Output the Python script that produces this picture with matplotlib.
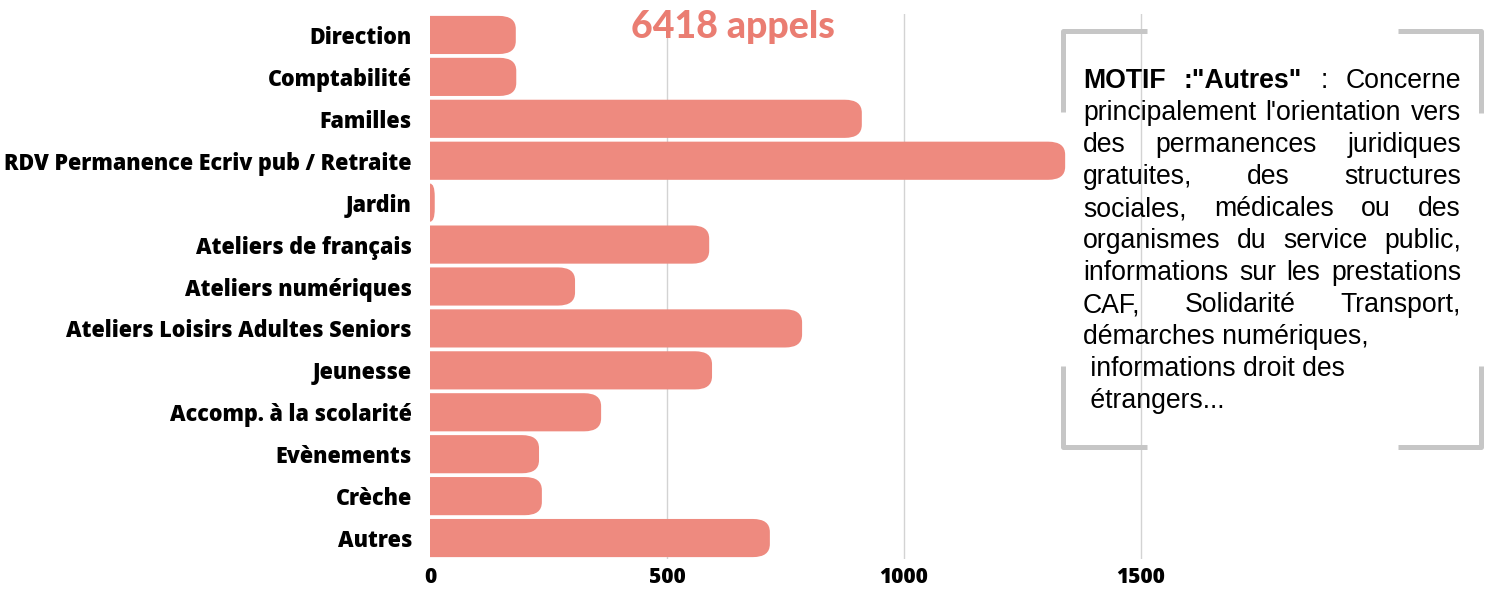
import matplotlib
matplotlib.use("Agg")
import matplotlib.pyplot as plt
from matplotlib.path import Path
from matplotlib.patches import PathPatch
from matplotlib.lines import Line2D
from matplotlib.transforms import IdentityTransform

# ---------------- Daten ----------------
categories = ["Direction", "Comptabilité", "Familles",
              "RDV Permanence Ecriv pub / Retraite", "Jardin",
              "Ateliers de français", "Ateliers numériques",
              "Ateliers Loisirs Adultes Seniors", "Jeunesse",
              "Accomp. à la scolarité", "Evènements", "Crèche", "Autres"]
appels = [181, 182, 911, 1340, 10, 589, 306, 785, 595, 361, 230, 236, 717]
x_ticks = [0, 500, 1000, 1500]
titre = "6418 appels"

motif_lignes = ['MOTIF :"Autres" : Concerne',
                "principalement l'orientation vers",
                "des permanences juridiques",
                "gratuites, des structures",
                "sociales, médicales ou des",
                "organismes du service public,",
                "informations sur les prestations",
                "CAF, Solidarité Transport,",
                "démarches numériques,",
                " informations droit des",
                " étrangers..."]
justifie = [True] * 8 + [False] * 3

# ---------------- Layout ----------------
W, H = 1492, 591
fig = plt.figure(figsize=(W / 100, H / 100), dpi=100)
px_x = 711 / 1500          # pixels par appel
xmax = 1550
ax_left, ax_top, ax_bot = 430, 14, 559
ax = fig.add_axes([ax_left / W, (H - ax_bot) / H, xmax * px_x / W, (ax_bot - ax_top) / H])
ax.set_xlim(0, xmax)
ax.set_ylim(len(categories) - 0.5, -0.5)
px_y = (ax_bot - ax_top) / len(categories)

couleur = "#EE8A7F"
h = 0.91
rx = 17 / px_x
ry = 13 / px_y

def barre_arrondie(y, v):
    r = min(rx, v)
    y0, y1 = y - h / 2, y + h / 2
    verts = [(0, y0), (v - r, y0), (v, y0), (v, y0 + ry), (v, y1 - ry),
             (v, y1), (v - r, y1), (0, y1), (0, y0)]
    codes = [Path.MOVETO, Path.LINETO, Path.CURVE3, Path.CURVE3, Path.LINETO,
             Path.CURVE3, Path.CURVE3, Path.LINETO, Path.CLOSEPOLY]
    ax.add_patch(PathPatch(Path(verts, codes), facecolor=couleur, edgecolor="none", zorder=2))

for i, v in enumerate(appels):
    barre_arrondie(i, v)

for t in x_ticks[1:]:
    ax.axvline(t, color="#d3d3d3", lw=1, zorder=1)

for s in ax.spines.values():
    s.set_visible(False)
ax.set_yticks(range(len(categories)))
ax.set_yticklabels(categories, fontfamily="Open Sans", fontweight="heavy", fontsize=15.5)
ax.set_xticks(x_ticks)
ax.set_xticklabels([str(t) for t in x_ticks], fontfamily="Open Sans", fontweight="heavy", fontsize=15)
ax.tick_params(axis="y", length=0, pad=13)
ax.tick_params(axis="x", length=0, pad=6)
ax.patch.set_alpha(0)

fig.text(733 / W, 1 - 27 / H, titre, color="#EA7D72", fontfamily="Lato",
         fontweight="black", fontsize=27, ha="center", va="center")

# ---------------- Klammern ----------------
gris = "#c6c6c6"
lw = 3.6
def trait(xs, ys):
    fig.add_artist(Line2D([x / W for x in xs], [1 - y / H for y in ys],
                          color=gris, lw=lw, solid_capstyle="butt"))
trait([1063, 1063, 1147], [112, 31, 31])
trait([1398, 1481, 1481], [31, 31, 113])
trait([1063, 1063, 1147], [366, 447, 447])
trait([1398, 1481, 1481], [447, 447, 366])

# ---------------- Text (justifié) ----------------
fig.canvas.draw()
rend = fig.canvas.get_renderer()
x0, x1 = 1083, 1461
fs = 19.2
for i, ligne in enumerate(motif_lignes):
    base = H - (88 + 32 * i)
    if not justifie[i]:
        fig.text(x0, base, ligne, transform=IdentityTransform(), fontfamily="Liberation Sans",
                 fontsize=fs, va="baseline", ha="left")
        continue
    mots = ligne.split()
    objs = []
    for j, m in enumerate(mots):
        gras = (i == 0 and j < 2)
        objs.append(fig.text(0, base, m, transform=IdentityTransform(),
                             fontfamily="Liberation Sans", fontsize=fs,
                             fontweight="bold" if gras else "normal",
                             va="baseline", ha="left"))
    largeurs = [o.get_window_extent(rend).width for o in objs]
    gap = (x1 - x0 - sum(largeurs)) / (len(mots) - 1)
    x = x0
    for o, w in zip(objs, largeurs):
        o.set_x(x)
        x += w + gap

fig.savefig("out.png", dpi=100)
